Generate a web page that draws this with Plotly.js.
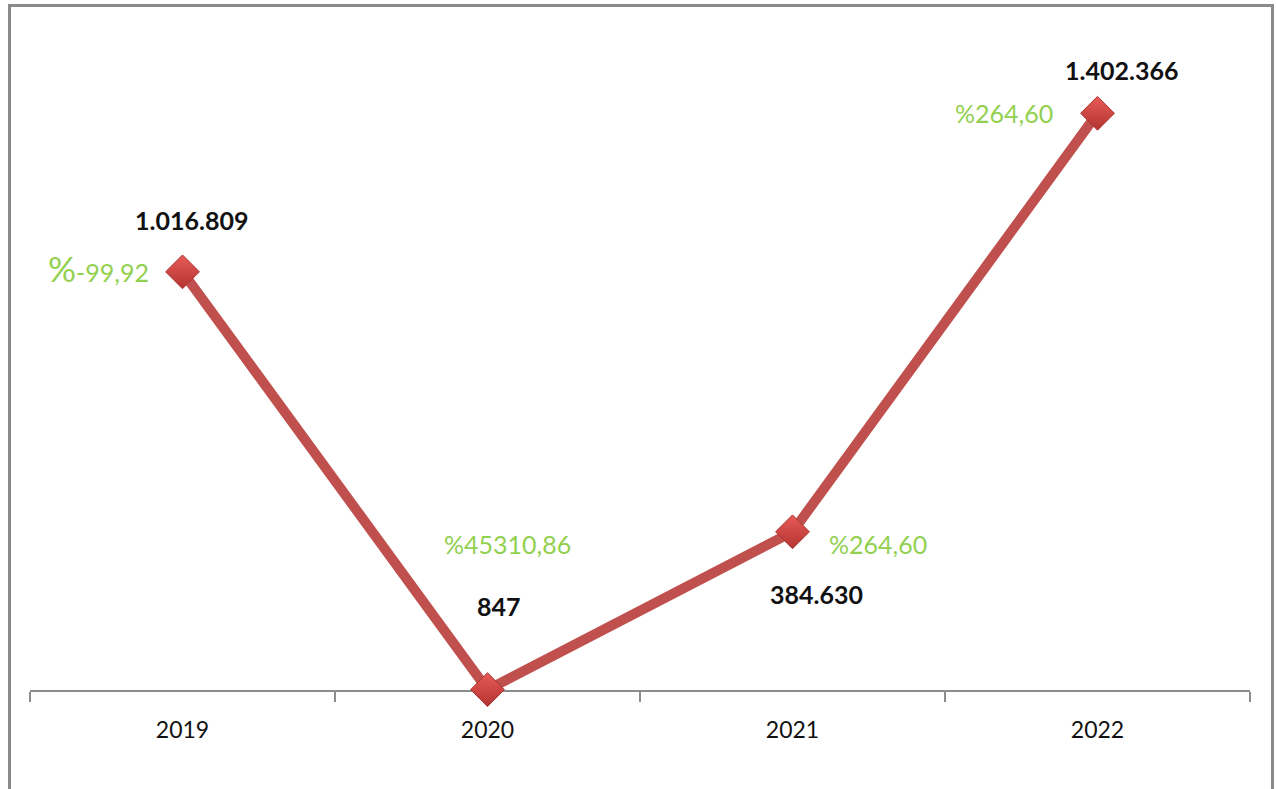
<!DOCTYPE html>
<html>
<head>
<meta charset="utf-8">
<script src="https://cdn.plot.ly/plotly-3.0.1.min.js"></script>
<style>
  html, body { margin: 0; padding: 0; background: #ffffff; }
  #wrap { position: relative; width: 1277px; height: 789px; overflow: hidden; }
  #chart { width: 1277px; height: 789px; }
  #frame { position: absolute; left: 8px; top: 4px; width: 1266px; height: 820px;
           border: 3px solid #8a8a8a; pointer-events: none; box-sizing: border-box; }
</style>
</head>
<body>
<div id="wrap">
  <div id="chart"></div>
  <div id="frame"></div>
</div>
<script>
const years = ['2019', '2020', '2021', '2022'];
const values = [1016809, 847, 384630, 1402366];
const valueLabels = ['1.016.809', '847', '384.630', '1.402.366'];
const pctLabels = ['<span style="font-size:35px">%</span>-99,92', '%45310,86', '%264,60', '%264,60'];

// label placement (style only): offsets from each point
const valuePos = [
  {xanchor: 'center', xshift: 9, yshift: 52},
  {xanchor: 'center', xshift: 11, yshift: 84},
  {xanchor: 'center', xshift: 24, yshift: -62},
  {xanchor: 'center', xshift: 24, yshift: 43}
];
const pctPos = [
  {xanchor: 'right', xshift: -32, yshift: 4},
  {xanchor: 'center', xshift: 20, yshift: 146},
  {xanchor: 'left', xshift: 34, yshift: -12},
  {xanchor: 'right', xshift: -43, yshift: 0}
];

const trace = {
  x: years,
  y: values,
  type: 'scatter',
  mode: 'lines+markers',
  cliponaxis: false,
  line: {color: '#c0504d', width: 10},
  marker: {
    symbol: 'diamond',
    size: 26,
    color: '#e85a56',
    gradient: {type: 'vertical', color: '#b33431'},
    line: {color: '#a83432', width: 1}
  },
  hoverinfo: 'skip'
};

const annotations = [];
years.forEach((yr, i) => {
  annotations.push(Object.assign({
    x: i, y: values[i], xref: 'x', yref: 'y',
    text: '<b>' + valueLabels[i] + '</b>',
    showarrow: false, yanchor: 'middle',
    font: {family: 'Lato, sans-serif', size: 25, color: '#111111'}
  }, valuePos[i]));
  annotations.push(Object.assign({
    x: i, y: values[i], xref: 'x', yref: 'y',
    text: pctLabels[i],
    showarrow: false, yanchor: 'middle',
    font: {family: 'Lato, sans-serif', size: 25, color: '#92d050'}
  }, pctPos[i]));
});

const layout = {
  width: 1277,
  height: 789,
  margin: {l: 30, r: 27, t: 32, b: 99},
  paper_bgcolor: '#ffffff',
  plot_bgcolor: '#ffffff',
  showlegend: false,
  xaxis: {
    type: 'category',
    range: [-0.5, 3.5],
    showline: true,
    linecolor: '#8c8c8c',
    linewidth: 1.5,
    ticks: 'outside',
    tickson: 'boundaries',
    ticklen: 10,
    tickcolor: '#8c8c8c',
    tickwidth: 1.5,
    ticklabelstandoff: 19,
    showgrid: false,
    zeroline: false,
    layer: 'below traces',
    tickfont: {family: 'Lato, sans-serif', size: 23, color: '#111111'}
  },
  yaxis: {
    range: [0, 1600000],
    visible: false,
    showgrid: false,
    zeroline: false
  },
  annotations: annotations
};

Plotly.newPlot('chart', [trace], layout, {displayModeBar: false, staticPlot: true});
</script>
</body>
</html>
